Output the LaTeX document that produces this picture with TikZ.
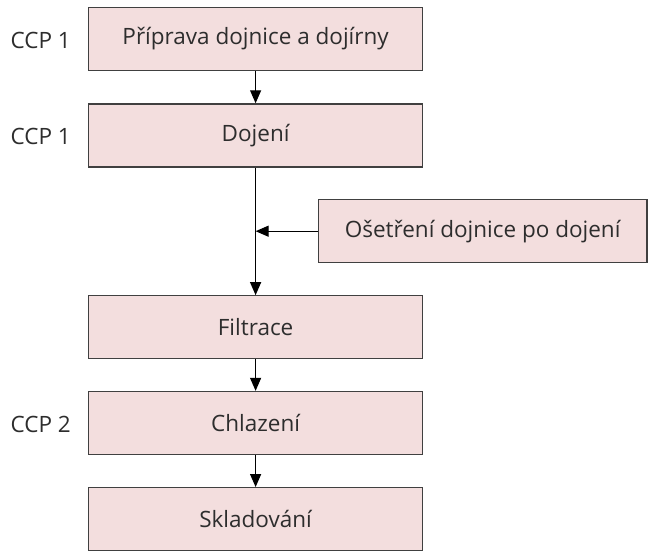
\documentclass[tikz,border=0pt]{standalone}
\usepackage{fontspec}
\setmainfont{Open Sans}
\usetikzlibrary{arrows.meta}
\definecolor{boxfill}{RGB}{243,222,222}
\definecolor{boxline}{RGB}{64,64,64}
\definecolor{txt}{RGB}{45,45,45}
\tikzset{
  stepbox/.style={draw=boxline, line width=1.3pt, fill=boxfill, text=txt,
    minimum width=334pt, minimum height=63pt, inner sep=0pt,
    font=\fontsize{22.5}{26}\selectfont},
  ccp/.style={text=txt, anchor=east, inner sep=0pt, font=\fontsize{22.5}{26}\selectfont},
  flow/.style={line width=1.2pt, -{Triangle[length=13pt,width=11pt]}}
}
\begin{document}
\begin{tikzpicture}[x=1pt,y=-1pt]
  \useasboundingbox (0,0) rectangle (648,551);
  % main process column
  \node[stepbox] (prep)  at (255.6,38.9)  {Příprava dojnice a dojírny};
  \node[stepbox] (milk)  at (255.6,135.4) {Dojení};
  \node[stepbox] (filt)  at (255.6,327.3) {Filtrace};
  \node[stepbox] (cool)  at (255.6,423.0) {Chlazení};
  \node[stepbox] (store) at (255.6,519.2) {Skladování};
  % side input
  \node[stepbox, minimum width=328.5pt] (post) at (482.6,231.2) {Ošetření dojnice po dojení};
  % critical control points
  \node[ccp] (c1) at (71,40.5)  {CCP 1};
  \node[ccp] (c2) at (71,136.5) {CCP 1};
  \node[ccp] (c3) at (71,424.5) {CCP 2};
  % connectors
  \coordinate (join) at (milk.south |- post.west);
  \draw[flow] (prep) -- (milk);
  \draw[flow] (milk) -- (filt);
  \draw[flow] (post) -- (join);
  \draw[flow] (filt) -- (cool);
  \draw[flow] (cool) -- (store);
\end{tikzpicture}
\end{document}
